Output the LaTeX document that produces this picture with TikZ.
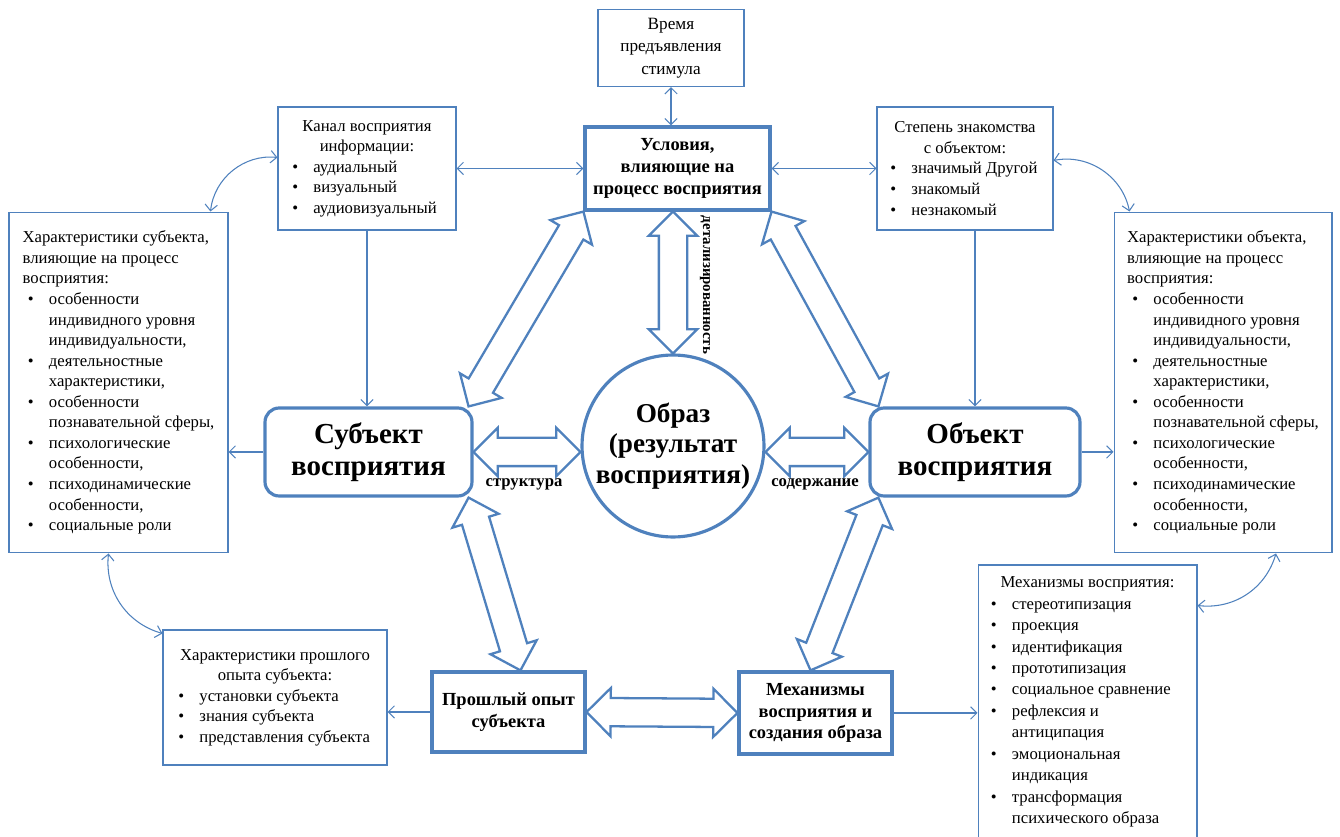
\documentclass[tikz,border=0pt]{standalone}
\usepackage{fontspec}
\setmainfont{Liberation Serif}
\usetikzlibrary{
  arrows.meta,
  calc,
  positioning,
  shapes.arrows
}
\definecolor{schemeblue}{HTML}{4F81BD}

% list lines
\newcommand{\bul}{\makebox[12pt][l]{\textbullet}}
\newcommand{\cli}[2]{\makebox[#1][l]{\bul #2}}
\newcommand{\clc}[2]{\makebox[#1][l]{\hspace*{12pt}#2}}
\newcommand{\lli}[1]{\hspace*{3pt}\bul #1}
\newcommand{\llc}[1]{\hspace*{15pt}#1}

% hollow double arrow between two points
\newcommand{\fatarrow}[3]{%
  \path let \p1=(#2), \p2=(#3),
    \n1={atan2(\y2-\y1,\x2-\x1)}, \n2={veclen(\x2-\x1,\y2-\y1)} in
    node[fat, minimum height=\n2, rotate=\n1] (#1) at ($(#2)!0.5!(#3)$) {};}

\begin{document}
\begin{tikzpicture}[
  x=0.02cm, y=-0.02cm,
  thinbox/.style={draw=schemeblue, line width=0.6pt, inner sep=0pt, font=\fontsize{9.5}{11.7}\selectfont},
  thickbox/.style={draw=schemeblue, line width=1.8pt, inner sep=0pt, align=center, font=\fontsize{10.5}{12.4}\selectfont\bfseries},
  mainbox/.style={thickbox, rounded corners=8pt, font=\fontsize{16.5}{18.5}\selectfont\bfseries},
  thin/.style={draw=schemeblue, line width=0.6pt},
  arr/.style={thin, -{Straight Barb[length=3.5pt, width=7pt]}},
  darr/.style={thin, {Straight Barb[length=3.5pt, width=7pt]}-{Straight Barb[length=3.5pt, width=7pt]}},
  fat/.style={double arrow, draw=schemeblue, line width=1.3pt, fill=white, inner xsep=0pt, inner ysep=0.26cm, double arrow head extend=0.2cm},
  lbl/.style={font=\fontsize{9.5}{11}\selectfont\bfseries},
]
\useasboundingbox (0,0) rectangle (1340,837);

% Top: conditions
\node[thinbox, minimum width=2.92cm, minimum height=1.54cm, align=center, font=\fontsize{9.8}{12.7}\selectfont] (time) at (671,48) {Время\\предъявления\\стимула};
\node[thickbox, minimum width=3.7cm, minimum height=1.66cm] (cond) at (677.5,168.5) {Условия,\\влияющие на\\процесс восприятия};
\node[thinbox, minimum width=3.56cm, minimum height=2.46cm, align=center] (chan) at (367,168.5) {Канал восприятия\\информации:\\\cli{85pt}{аудиальный}\\\cli{85pt}{визуальный}\\\cli{85pt}{аудиовизуальный}};
\node[thinbox, minimum width=3.52cm, minimum height=2.46cm, align=center] (fam) at (965,168.5) {Степень знакомства\\с объектом:\\\cli{85pt}{значимый Другой}\\\cli{85pt}{знакомый}\\\cli{85pt}{незнакомый}};

% Side lists
\node[thinbox, minimum width=4.38cm, minimum height=6.82cm, align=left] (subjchar) at (118.5,382.5) {Характеристики субъекта,\\влияющие на процесс\\восприятия:\\\lli{особенности}\\\llc{индивидного уровня}\\\llc{индивидуальности,}\\\lli{деятельностные}\\\llc{характеристики,}\\\lli{особенности}\\\llc{познавательной сферы,}\\\lli{психологические}\\\llc{особенности,}\\\lli{психодинамические}\\\llc{особенности,}\\\lli{социальные роли}};
\node[thinbox, minimum width=4.36cm, minimum height=6.82cm, align=left] (objchar) at (1223,382.5) {Характеристики объекта,\\влияющие на процесс\\восприятия:\\\lli{особенности}\\\llc{индивидного уровня}\\\llc{индивидуальности,}\\\lli{деятельностные}\\\llc{характеристики,}\\\lli{особенности}\\\llc{познавательной сферы,}\\\lli{психологические}\\\llc{особенности,}\\\lli{психодинамические}\\\llc{особенности,}\\\lli{социальные роли}};

% Middle row
\node[mainbox, minimum width=4.14cm, minimum height=1.76cm] (subj) at (368.5,452) {Субъект\\восприятия};
\node[mainbox, minimum width=4.2cm, minimum height=1.76cm] (obj) at (975,452) {Объект\\восприятия};
\node[circle, draw=schemeblue, line width=1.8pt, inner sep=0pt, minimum size=3.64cm, align=center, font=\fontsize{15.5}{17.5}\selectfont\bfseries] (img) at (673,446) {Образ\\(результат\\восприятия)};

% Bottom row
\node[thickbox, minimum width=3.06cm, minimum height=1.6cm] (past) at (508.5,712) {Прошлый опыт\\субъекта};
\node[thickbox, minimum width=3.06cm, minimum height=1.64cm] (mech) at (815.5,713) {Механизмы\\восприятия и\\создания образа};
\node[thinbox, minimum width=4.48cm, minimum height=2.7cm, align=center] (pastchar) at (275,697.5) {Характеристики прошлого\\опыта субъекта:\\\cli{110pt}{установки субъекта}\\\cli{110pt}{знания субъекта}\\\cli{110pt}{представления субъекта}};
\node[thinbox, minimum width=4.38cm, minimum height=5.48cm, align=center, font=\fontsize{9.5}{12.2}\selectfont] (mechlist) at (1087.5,702) {Механизмы восприятия:\\\cli{110pt}{стереотипизация}\\\cli{110pt}{проекция}\\\cli{110pt}{идентификация}\\\cli{110pt}{прототипизация}\\\cli{110pt}{социальное сравнение}\\\cli{110pt}{рефлексия и}\\\clc{110pt}{антиципация}\\\cli{110pt}{эмоциональная}\\\clc{110pt}{индикация}\\\cli{110pt}{трансформация}\\\clc{110pt}{психического образа}};

% Thin connectors
\draw[darr] (time.south) -- (time.south |- cond.north);
\draw[darr] (chan.east) -- (cond.west);
\draw[darr] (cond.east) -- (fam.west);
\draw[arr] (chan.south) -- (chan.south |- subj.north);
\draw[arr] (obj.north |- fam.south) -- (obj.north);
\draw[arr] (subj.west) -- (subj.west -| subjchar.east);
\draw[arr] (obj.east) -- (obj.east -| objchar.west);
\draw[arr] (past.west) -- (past.west -| pastchar.east);
\draw[arr] (mech.east) -- (mech.east -| mechlist.west);

% Curved links between lists
\coordinate (chanL) at ($(chan.west)+(0,-11)$);
\coordinate (subjcharT) at ($(subjchar.north east)+(-18,0)$);
\coordinate (famR) at ($(fam.east)+(0,-8)$);
\coordinate (objcharT) at ($(objchar.north west)+(16,0)$);
\coordinate (subjcharB) at ($(subjchar.south)+(-10,0)$);
\coordinate (pastcharL) at ($(pastchar.north west)+(0,4)$);
\coordinate (objcharB) at ($(objchar.south)+(53,0)$);
\coordinate (mechlistR) at ($(mechlist.north east)+(0,41)$);
\draw[darr] (chanL) to[bend right=45] (subjcharT);
\draw[darr] (famR) to[bend left=45] (objcharT);
\draw[darr] (subjcharB) to[bend right=40] (pastcharL);
\draw[darr] (objcharB) to[bend left=40] (mechlistR);

% Hollow double arrows
\coordinate (subjNE) at ($(subj.north east)+(-5,0)$);
\coordinate (objNW) at ($(obj.north west)+(10,0)$);
\coordinate (subjSE) at ($(subj.south east)+(-5,0)$);
\coordinate (objSW) at ($(obj.south west)+(10,0)$);
\coordinate (pastN) at ($(past.north)+(12,0)$);
\coordinate (mechN) at ($(mech.north)+(-5,0)$);
\coordinate (condS) at (img.north |- cond.south);
\coordinate (imgW) at (subj.east -| img.west);
\coordinate (imgE) at (obj.west -| img.east);
\fatarrow{fcs}{cond.south west}{subjNE}
\fatarrow{fco}{cond.south east}{objNW}
\fatarrow{fci}{condS}{img.north}
\fatarrow{fsi}{subj.east}{imgW}
\fatarrow{fio}{imgE}{obj.west}
\fatarrow{fsp}{subjSE}{pastN}
\fatarrow{fom}{objSW}{mechN}
\fatarrow{fpm}{past.east}{mech.west}

% Arrow labels
\node[lbl] (lstruct) at (524,484) {структура};
\node[lbl] (lcont) at (815,484) {содержание};
\node[lbl, font=\fontsize{8.5}{10}\selectfont\bfseries, rotate=-90] (ldet) at (705,285) {детализированность};
\end{tikzpicture}
\end{document}
